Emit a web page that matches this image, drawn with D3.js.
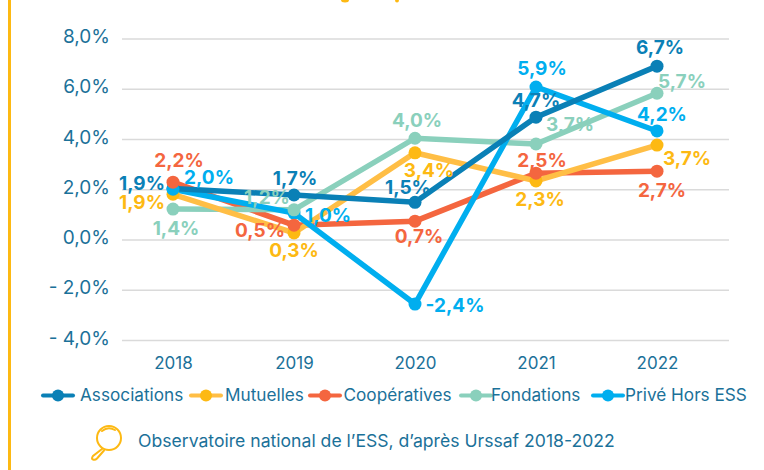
<!DOCTYPE html>
<html lang="en">
<meta charset="utf-8">
<style>
html, body { margin: 0; padding: 0; background: #fff; }
svg { display: block; font-family: Inter, sans-serif; }
</style>
<body>
<script src="https://d3js.org/d3.v7.min.js"></script>
<script>
// Data. The printed labels do not always match the plotted points.
var years = ["2018", "2019", "2020", "2021", "2022"];
var yTicks = [8, 6, 4, 2, 0, -2, -4];
var yTickLabels = ["8,0%", "6,0%", "4,0%", "2,0%", "0,0%", "- 2,0%", "- 4,0%"];

var associations = [2.03, 1.77, 1.48, 4.87, 6.9];
var mutuelles = [1.8, 0.26, 3.45, 2.33, 3.76];
var cooperatives = [2.28, 0.57, 0.73, 2.64, 2.72];
var fondations = [1.21, 1.18, 4.03, 3.8, 5.82];
var priveHorsEss = [2.0, 1.05, -2.57, 6.07, 4.32];

var associationsLabels = ["1,9%", "1,7%", "1,5%", "4,7%", "6,7%"];
var mutuellesLabels = ["1,9%", "0,3%", "3,4%", "2,3%", "3,7%"];
var cooperativesLabels = ["2,2%", "0,5%", "0,7%", "2,5%", "2,7%"];
var fondationsLabels = ["1,4%", "1,2%", "4,0%", "3,7%", "5,7%"];
var priveLabels = ["2,0%", "1,0%", "-2,4%", "5,9%", "4,2%"];

var w = 764;
var h = 470;

var series = [
  { name: "Associations", values: associations, labels: associationsLabels, color: "#0a80b6", lineColor: "#0a80b6",
    off: [[-31, 2], [1, -10], [-7, -8], [0, -10], [3, -12]] },
  { name: "Mutuelles", values: mutuelles, labels: mutuellesLabels, color: "#fdb913", lineColor: "#ffbe45",
    off: [[-31, 15], [0, 24], [14, 24], [4, 25], [30, 20]] },
  { name: "Coopératives", values: cooperatives, labels: cooperativesLabels, color: "#f4663f", lineColor: "#f4663f",
    off: [[6, -15], [-34, 12], [4, 22], [6, -6], [5, 26]] },
  { name: "Fondations", values: fondations, labels: fondationsLabels, color: "#8ad0bc", lineColor: "#8ad0bc",
    off: [[3, 26], [-27, -6], [2, -11], [34, -13], [25, -5]] },
  { name: "Privé Hors ESS", values: priveHorsEss, labels: priveLabels, color: "#00aeef", lineColor: "#00aeef",
    off: [[36, -5], [34, 9], [40, 8], [6, -12], [5, -10]] }
];

var textColor = "#1b7199";

var svg = d3.select("body").append("svg")
  .attr("width", w)
  .attr("height", h);

// left rule and the bits of the cut off title
svg.append("rect").attr("x", 8).attr("y", 0).attr("width", 3).attr("height", h).attr("fill", "#fdb913");
svg.append("ellipse").attr("cx", 345).attr("cy", 0).attr("rx", 4).attr("ry", 2.5).attr("fill", "#fdb913");
svg.append("ellipse").attr("cx", 397).attr("cy", 0).attr("rx", 2).attr("ry", 2.5).attr("fill", "#fdb913");

var xScale = d3.scalePoint().domain(years).range([173, 657]);
var yScale = d3.scaleLinear().domain([-4, 8]).range([340, 38.5]);

// y axis with grid lines
var yAxis = svg.append("g")
  .attr("transform", "translate(122,0)")
  .call(d3.axisLeft(yScale)
    .tickValues(yTicks)
    .tickSize(-607)
    .tickPadding(12)
    .tickFormat(function (d, i) { return yTickLabels[i]; }));
yAxis.select(".domain").remove();
yAxis.selectAll("line").attr("stroke", "#dadada").attr("stroke-width", 1.5);
yAxis.selectAll("text")
  .attr("fill", textColor)
  .attr("font-size", 19)
  .attr("font-family", "Inter, sans-serif")
  .attr("dy", "0.22em");

// x axis
var xAxis = svg.append("g")
  .attr("transform", "translate(0,340)")
  .call(d3.axisBottom(xScale).tickSize(0).tickPadding(17));
xAxis.select(".domain").remove();
xAxis.selectAll("text")
  .attr("fill", textColor)
  .attr("font-size", 17)
  .attr("font-family", "Inter, sans-serif");

var line = d3.line()
  .x(function (d, i) { return xScale(years[i]); })
  .y(function (d) { return yScale(d); });

// stacking as in the picture, lines and dots have a different order
var lineOrder = [2, 3, 1, 4, 0];
var dotOrder = [1, 0, 4, 3, 2];

lineOrder.forEach(function (k) {
  svg.append("path")
    .attr("d", line(series[k].values))
    .attr("fill", "none")
    .attr("stroke", series[k].lineColor)
    .attr("stroke-width", 5.5);
});

dotOrder.forEach(function (k) {
  svg.append("g").selectAll("circle")
    .data(series[k].values)
    .enter()
    .append("circle")
    .attr("cx", function (d, i) { return xScale(years[i]); })
    .attr("cy", function (d) { return yScale(d); })
    .attr("r", 6.5)
    .attr("fill", series[k].color);
});

series.forEach(function (s) {
  svg.append("g").selectAll("text")
    .data(s.values)
    .enter()
    .append("text")
    .attr("x", function (d, i) { return xScale(years[i]) + s.off[i][0]; })
    .attr("y", function (d, i) { return yScale(d) + s.off[i][1]; })
    .attr("text-anchor", "middle")
    .attr("font-size", 19)
    .attr("font-weight", 700)
    .attr("fill", s.color)
    .text(function (d, i) { return s.labels[i]; });
});

// legend
var legendLine = [43, 191, 310, 461, 593];
var legendText = [80, 225, 343.5, 491, 625];

series.forEach(function (s, i) {
  svg.append("line")
    .attr("x1", legendLine[i]).attr("x2", legendLine[i] + 30)
    .attr("y1", 395.5).attr("y2", 395.5)
    .attr("stroke", s.lineColor)
    .attr("stroke-width", 4)
    .attr("stroke-linecap", "round");
  svg.append("circle")
    .attr("cx", legendLine[i] + 15).attr("cy", 395.5).attr("r", 6)
    .attr("fill", s.color);
  svg.append("text")
    .attr("x", legendText[i]).attr("y", 401)
    .attr("font-size", 17.2)
    .attr("fill", textColor)
    .text(s.name);
});

// magnifier and source
var icon = svg.append("g").attr("fill", "none").attr("stroke", "#fdb913").attr("stroke-width", 2).attr("stroke-linecap", "round");
icon.append("circle").attr("cx", 109).attr("cy", 438).attr("r", 12);
icon.append("path").attr("d", "M102 449 L93 456 Q91 459 93 459.5 Q95 460.5 97 458.5 L104 450.5");
icon.append("path").attr("d", "M102 431 Q108 426 115 430");

svg.append("text")
  .attr("x", 138).attr("y", 447)
  .attr("font-size", 17.6)
  .attr("fill", textColor)
  .text("Observatoire national de l’ESS, d’après Urssaf 2018-2022");
</script>
</body>
</html>
